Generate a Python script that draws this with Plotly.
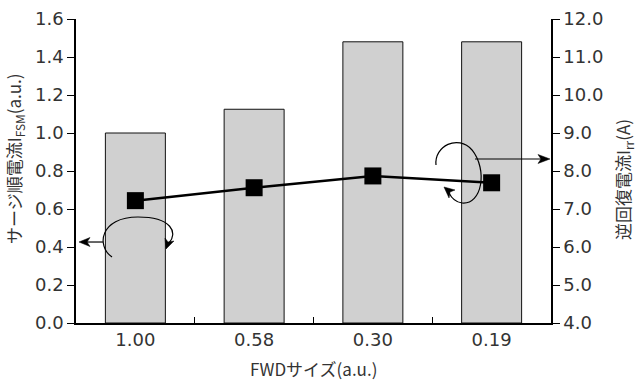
import plotly.graph_objects as go

categories = ["1.00", "0.58", "0.30", "0.19"]
surge_current = [1.00, 1.125, 1.48, 1.48]      # left axis (a.u.)
recovery_current = [7.22, 7.56, 7.87, 7.69]    # right axis (A)

x_title = "FWDサイズ(a.u.)"
y_title = "サージ順電流I<sub>FSM</sub>(a.u.)"
y2_title = "逆回復電流I<sub>rr</sub>(A)"

FONT = "Noto Sans CJK JP"
TICKFONT = "DejaVu Sans"
TXT = "#333333"

# plot area in pixels
L, R, T, B = 76, 551, 19, 323
W, H = 636, 381

def P(px, py):
    return (px - L) / (R - L), (B - py) / (B - T)

def path(pts_str):
    out = []
    for tok in pts_str.split():
        if "," in tok:
            a, b = tok.split(",")
            x, y = P(float(a), float(b))
            out.append(f"{x:.4f},{y:.4f}")
        else:
            out.append(tok)
    return " ".join(out)

fig = go.Figure()
fig.add_trace(go.Bar(
    x=categories, y=surge_current, width=0.505,
    marker=dict(color="#d0d0d0", line=dict(color="#111111", width=1)),
    yaxis="y", showlegend=False,
))
fig.add_trace(go.Scatter(
    x=categories, y=recovery_current, mode="lines+markers",
    line=dict(color="black", width=2.5),
    marker=dict(symbol="square", size=17, color="black"),
    yaxis="y2", showlegend=False,
))

line_style = dict(color="black", width=1.2)
shapes = [
    # curved arrow near bar group 1 (bars -> left axis)
    dict(type="path", xref="paper", yref="paper",
         path=path("M 112,257 C 96,246 100,217 138,217 C 172,217 178,233 169,243"),
         line=line_style),
    # horizontal arrow to left axis
    dict(type="path", xref="paper", yref="paper",
         path=path("M 103,242 L 84,242"), line=line_style),
    dict(type="path", xref="paper", yref="paper",
         path=path("M 79,242 L 90,237.5 L 87,242 L 90,246.5 Z"),
         fillcolor="black", line=dict(color="black", width=0.5)),
    # arc arrowhead (pointing down-left)
    dict(type="path", xref="paper", yref="paper",
         path=path("M 166,249 L 165,238 L 168,242 L 174,241 Z"),
         fillcolor="black", line=dict(color="black", width=0.5)),
    # curved arrow near last point (line -> right axis)
    dict(type="path", xref="paper", yref="paper",
         path=path("M 436,165 C 434,146 458,134 472,150 C 488,170 482,205 462,203 C 455,202 451,197 449,193"),
         line=line_style),
    dict(type="path", xref="paper", yref="paper",
         path=path("M 475,159 L 545,159"), line=line_style),
    dict(type="path", xref="paper", yref="paper",
         path=path("M 550,159 L 538,154.5 L 541,159 L 538,163.5 Z"),
         fillcolor="black", line=dict(color="black", width=0.5)),
    # arc arrowhead (pointing up-left)
    dict(type="path", xref="paper", yref="paper",
         path=path("M 444,187 L 455,190 L 450,192 L 449,198 Z"),
         fillcolor="black", line=dict(color="black", width=0.5)),
]

def title_ann(text, px, py, angle=0):
    x, y = P(px, py)
    return dict(text=text, x=x, y=y, xref="paper", yref="paper",
                xanchor="center", yanchor="middle", showarrow=False,
                textangle=angle, font=dict(family=FONT, size=17, color=TXT))

annotations = [
    title_ann(x_title, 313.5, 368),
    title_ann(y_title, 14, 159, -90),
    title_ann(y2_title, 623, 180, -90),
]

fig.update_layout(
    width=W, height=H,
    margin=dict(l=L, r=W - R, t=T, b=H - B),
    paper_bgcolor="white", plot_bgcolor="white",
    font=dict(family=FONT, color=TXT, size=17),
    xaxis=dict(
        type="category", showline=True, linecolor="black", linewidth=1.5,
        ticks="inside", tickson="boundaries", ticklen=6, tickcolor="black",
        tickfont=dict(family=TICKFONT, size=18, color=TXT),
        showgrid=False, range=[-0.5, 3.5], automargin=False,
    ),
    yaxis=dict(
        range=[0, 1.6], dtick=0.2, tickformat=".1f",
        showline=True, linecolor="black", linewidth=1.5,
        ticks="outside", ticklen=7, tickcolor="black",
        showgrid=False, zeroline=False, automargin=False,
        tickfont=dict(family=TICKFONT, size=18, color=TXT),
    ),
    yaxis2=dict(
        range=[4, 12], dtick=1, tickformat=".1f", overlaying="y", side="right",
        showline=True, linecolor="black", linewidth=1.5,
        ticks="outside", ticklen=7, tickcolor="black",
        showgrid=False, zeroline=False, automargin=False,
        tickfont=dict(family=TICKFONT, size=18, color=TXT),
    ),
    shapes=shapes,
    annotations=annotations,
)

fig.write_html("out.html", config={"displayModeBar": False},
               post_script="document.body.style.margin='0';document.body.style.overflow='hidden';")
